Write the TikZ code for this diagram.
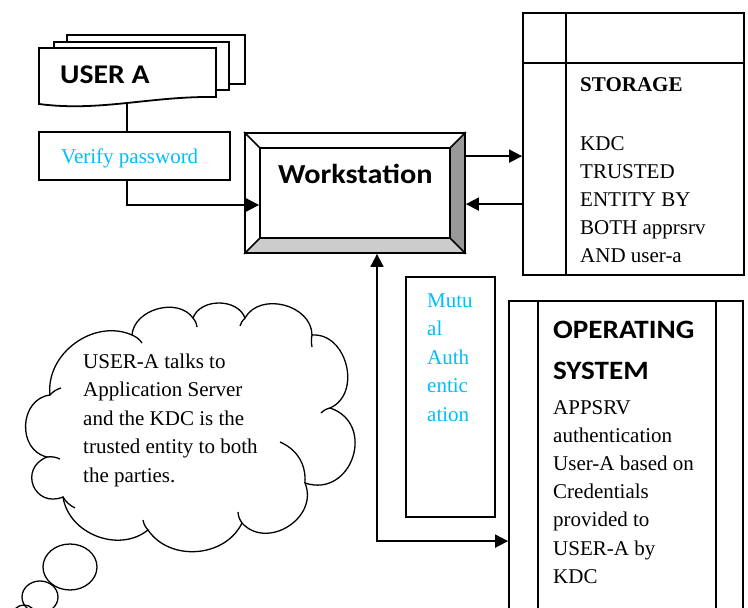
\documentclass[tikz,border=0pt]{standalone}
\usepackage{fontspec}
\setmainfont{Liberation Serif}
\newfontfamily\carlito[FakeStretch=1.1]{Carlito}
\usetikzlibrary{arrows.meta,calc}
\definecolor{cyantext}{RGB}{0,190,250}
\definecolor{bevdark}{RGB}{153,153,153}
\definecolor{bevlight}{RGB}{204,204,204}
\begin{document}
\begin{tikzpicture}[x=1pt,y=-1pt,
  line join=miter,
  thick line/.style={line width=1.8pt},
  box/.style={draw, line width=1.8pt, inner sep=0pt, fill=white},
  conn/.style={line width=1.8pt, -{Triangle[length=13pt,width=13pt]}},
  conn2/.style={line width=1.8pt, {Triangle[length=13pt,width=13pt]}-{Triangle[length=13pt,width=13pt]}},
  tt/.style={font=\fontsize{21}{28}\selectfont, inner sep=0pt, anchor=base west},
  cb/.style={font=\carlito\bfseries\fontsize{27}{32}\selectfont, inner sep=0pt, anchor=base west},
  puff/.style 2 args={bend left=#1, looseness=#2},
  cloudline/.style={line width=1.3pt},
]
\path[use as bounding box] (0,0) rectangle (748,608);
\clip (0,0) rectangle (748,608);
\fill[white] (0,0) rectangle (748,608);

% ---------- USER A (multi document) ----------
\draw[thick line, fill=white] (67,35) rectangle (245,84);
\draw[thick line, fill=white] (54,42) rectangle (229,90);
\draw[thick line, fill=white] (39,48) -- (216,48) -- (216,97) .. controls (150,96) and (100,112) .. (39,104) -- cycle;
\node[cb] (usera) at (60,83) {USER A};
\coordinate (uabot) at (127,103);

% ---------- Verify password ----------
\node[box, minimum width=191pt, minimum height=48pt] (verify) at (134.5,156) {};
\node[tt, text=cyantext] (verifytext) at (61,163) {Verify password};

% ---------- Workstation (bevel) ----------
\fill[bevdark] (465,133) -- (465,253) -- (450,238) -- (450,148) -- cycle;
\fill[bevlight] (245,253) -- (465,253) -- (450,238) -- (260,238) -- cycle;
\node[draw, line width=1.8pt, minimum width=220pt, minimum height=120pt, inner sep=0pt] (ws) at (355,193) {};
\draw[thick line] (260,148) rectangle (450,238);
\draw[line width=1.5pt] (ws.north west) -- (260,148) (ws.north east) -- (450,148) (ws.south west) -- (260,238) (ws.south east) -- (450,238);
\node[cb, font=\carlito\bfseries\fontsize{27.5}{32}\selectfont] (wstext) at (278,183) {Workstation};

% ---------- Storage ----------
\node[box, minimum width=221pt, minimum height=262pt] (st) at (633.5,144) {};
\draw[thick line] ($(st.north west)+(44,0)$) -- ($(st.south west)+(44,0)$);
\draw[thick line] ($(st.north west)+(0,51)$) -- ($(st.north east)+(0,51)$);
\node[tt, font=\bfseries\fontsize{21}{28}\selectfont] (sthead) at (580,91) {STORAGE};
\foreach \t [count=\i] in {KDC, TRUSTED, ENTITY BY, BOTH apprsrv, AND user-a}
  \node[tt] (st\i) at (580,{150+28*(\i-1)}) {\t};

% ---------- Operating system ----------
\node[box, minimum width=234pt, minimum height=320pt] (os) at (626,461) {};
\draw[thick line] (538,301) -- (538,612) (716,301) -- (716,612);
\node[cb, font=\carlito\bfseries\fontsize{26.5}{32}\selectfont] (os1) at (553,338) {OPERATING};
\node[cb, font=\carlito\bfseries\fontsize{26.5}{32}\selectfont] (os2) at (553,379) {SYSTEM};
\foreach \t [count=\i] in {APPSRV, authentication, User-A based on, Credentials, provided to, USER-A by, KDC}
  \node[tt] (ost\i) at (553,{414+28.2*(\i-1)}) {\t};

% ---------- Mutual Authentication ----------
\node[box, minimum width=89pt, minimum height=240pt] (mu) at (450.5,397) {};
\foreach \t [count=\i] in {Mutu, al, Auth, entic, ation}
  \node[tt, text=cyantext] (mut\i) at (427,{307+28.5*(\i-1)}) {\t};

% ---------- Connectors ----------
\draw[thick line] (uabot) -- (uabot |- verify.north);
\draw[conn] (uabot |- verify.south) |- ($(ws.west)+(15,12)$);
\draw[conn] ($(ws.north east)+(0,24)$) -- ($(st.north west)+(0,144)$);
\draw[conn] ($(st.north west)+(0,192)$) -- ($(ws.north east)+(0,72)$);
\draw[conn2] ($(ws.south)+(22,0)$) |- ($(os.north west)+(0,241)$);

% ---------- Thought cloud ----------
\draw[cloudline, fill=white] (50,395) to[puff={60}{1.05}] (132,335) to[puff={70}{1.05}] (193,318)
  to[puff={70}{1.05}] (245,318) to[puff={75}{1.13}] (312,335) to[puff={80}{1.2}] (330,408)
  to[puff={90}{1.6}] (305,483) to[puff={80}{1.28}] (242,523) to[puff={60}{1.05}] (148,530)
  to[puff={60}{1.05}] (63,497) to[puff={90}{1.85}] (47,457) to[puff={80}{1.28}] (50,395) -- cycle;
\draw[cloudline] (132,335) to[bend left=15] (142,343);
\draw[cloudline] (193,318) to[bend left=15] (197,327);
\draw[cloudline] (245,318) to[bend right=15] (240,326);
\draw[cloudline] (312,335) to[bend right=10] (312,347);
\draw[cloudline] (330,408) to[bend right=15] (321,413);
\draw[cloudline] (305,483) to[bend right=35] (280,442);
\draw[cloudline] (242,523) to[bend left=15] (238,512);
\draw[cloudline] (148,530) to[bend left=15] (143,520);
\draw[cloudline] (63,497) to[bend right=15] (75,508);
\draw[cloudline] (47,457) to[bend left=15] (60,459);
\draw[cloudline] (50,395) to[bend left=15] (61,388);
\foreach \t [count=\i] in {USER-A talks to, Application Server, and the KDC is the, trusted entity to both, the parties.}
  \node[tt] (cl\i) at (83,{368+28.5*(\i-1)}) {\t};

\draw[cloudline] (70,567) ellipse [x radius=27, y radius=23];
\draw[cloudline] (40,597) ellipse [x radius=18, y radius=16];
\draw[cloudline] (24,617) circle [radius=12];
\end{tikzpicture}
\end{document}
